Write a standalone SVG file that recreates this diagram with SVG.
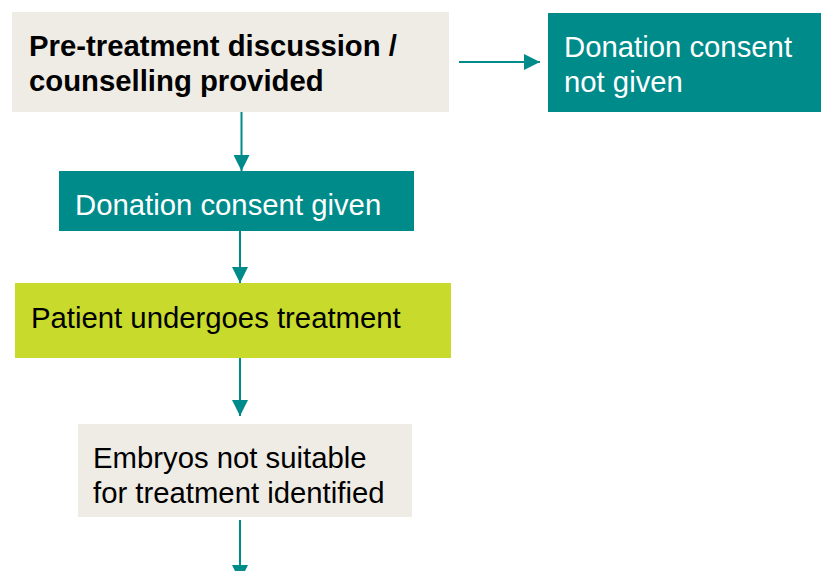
<svg xmlns="http://www.w3.org/2000/svg" width="825" height="571" viewBox="0 0 825 571">
  <style>
    .label { font-family: "Liberation Sans", Arial, sans-serif; font-size: 29.3px; }
    .bold { font-weight: bold; }
    .dark { fill: #000000; }
    .light { fill: #ffffff; }
    .beige { fill: #efece5; }
    .teal { fill: #008b8b; }
    .lime { fill: #c8da2b; }
    .link { stroke: #008b8b; stroke-width: 2; fill: none; }
  </style>
  <defs>
    <marker id="arrow" viewBox="0 0 16 16" refX="16" refY="8" markerWidth="16" markerHeight="16" markerUnits="userSpaceOnUse" orient="auto">
      <path d="M0,0 L16,8 L0,16 Z" fill="#008b8b"/>
    </marker>
  </defs>

  <rect width="825" height="571" fill="#ffffff"/>

  <g id="connectors">
    <line class="link" x1="459" y1="62" x2="540" y2="62" marker-end="url(#arrow)"/>
    <line class="link" x1="241.5" y1="111" x2="241.5" y2="171" marker-end="url(#arrow)"/>
    <line class="link" x1="240" y1="230" x2="240" y2="283" marker-end="url(#arrow)"/>
    <line class="link" x1="240" y1="357" x2="240" y2="416" marker-end="url(#arrow)"/>
    <line class="link" x1="240" y1="520" x2="240" y2="581" marker-end="url(#arrow)"/>
  </g>

  <g id="pre-treatment">
    <rect class="beige" x="12" y="12" width="437" height="100"/>
    <text class="label bold dark" x="29" y="55.5">Pre-treatment discussion /</text>
    <text class="label bold dark" x="29" y="90.5">counselling provided</text>
  </g>

  <g id="consent-not-given">
    <rect class="teal" x="548" y="13" width="273" height="99"/>
    <text class="label light" x="564" y="56.5">Donation consent</text>
    <text class="label light" x="564" y="91.5">not given</text>
  </g>

  <g id="consent-given">
    <rect class="teal" x="59" y="171" width="355" height="60"/>
    <text class="label light" x="75" y="214.5">Donation consent given</text>
  </g>

  <g id="treatment">
    <rect class="lime" x="15" y="283" width="436" height="75"/>
    <text class="label dark" x="31" y="327.5">Patient undergoes treatment</text>
  </g>

  <g id="embryos-unsuitable">
    <rect class="beige" x="78" y="424" width="334" height="93"/>
    <text class="label dark" x="93" y="467.5">Embryos not suitable</text>
    <text class="label dark" x="93" y="502.5">for treatment identified</text>
  </g>
</svg>
